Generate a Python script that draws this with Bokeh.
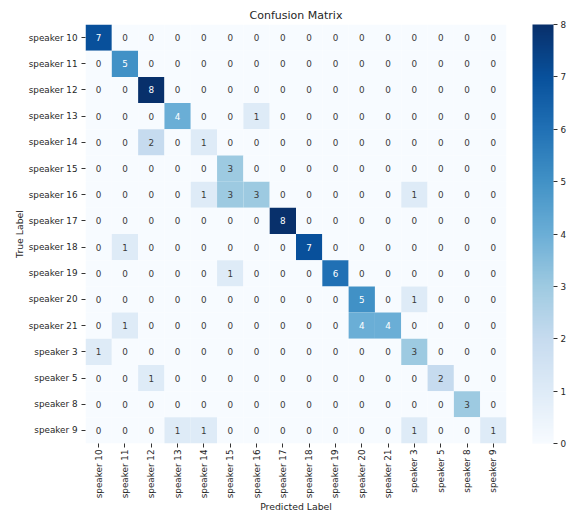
import math
from bokeh.plotting import figure
from bokeh.models import ColumnDataSource, ColorBar, LinearColorMapper, FixedTicker, Title
from bokeh.palettes import Blues256
from bokeh.embed import file_html
from bokeh.resources import INLINE

labels = ["speaker 10", "speaker 11", "speaker 12", "speaker 13", "speaker 14",
          "speaker 15", "speaker 16", "speaker 17", "speaker 18", "speaker 19",
          "speaker 20", "speaker 21", "speaker 3", "speaker 5", "speaker 8", "speaker 9"]

matrix = [
    [7, 0, 0, 0, 0, 0, 0, 0, 0, 0, 0, 0, 0, 0, 0, 0],
    [0, 5, 0, 0, 0, 0, 0, 0, 0, 0, 0, 0, 0, 0, 0, 0],
    [0, 0, 8, 0, 0, 0, 0, 0, 0, 0, 0, 0, 0, 0, 0, 0],
    [0, 0, 0, 4, 0, 0, 1, 0, 0, 0, 0, 0, 0, 0, 0, 0],
    [0, 0, 2, 0, 1, 0, 0, 0, 0, 0, 0, 0, 0, 0, 0, 0],
    [0, 0, 0, 0, 0, 3, 0, 0, 0, 0, 0, 0, 0, 0, 0, 0],
    [0, 0, 0, 0, 1, 3, 3, 0, 0, 0, 0, 0, 1, 0, 0, 0],
    [0, 0, 0, 0, 0, 0, 0, 8, 0, 0, 0, 0, 0, 0, 0, 0],
    [0, 1, 0, 0, 0, 0, 0, 0, 7, 0, 0, 0, 0, 0, 0, 0],
    [0, 0, 0, 0, 0, 1, 0, 0, 0, 6, 0, 0, 0, 0, 0, 0],
    [0, 0, 0, 0, 0, 0, 0, 0, 0, 0, 5, 0, 1, 0, 0, 0],
    [0, 1, 0, 0, 0, 0, 0, 0, 0, 0, 4, 4, 0, 0, 0, 0],
    [1, 0, 0, 0, 0, 0, 0, 0, 0, 0, 0, 0, 3, 0, 0, 0],
    [0, 0, 1, 0, 0, 0, 0, 0, 0, 0, 0, 0, 0, 2, 0, 0],
    [0, 0, 0, 0, 0, 0, 0, 0, 0, 0, 0, 0, 0, 0, 3, 0],
    [0, 0, 0, 1, 1, 0, 0, 0, 0, 0, 0, 0, 1, 0, 0, 1],
]

colorbar_ticks = [0, 1, 2, 3, 4, 5, 6, 7, 8]

xs, ys, vals, txt, tcol = [], [], [], [], []
for i, true_lab in enumerate(labels):
    for j, pred_lab in enumerate(labels):
        v = matrix[i][j]
        xs.append(pred_lab)
        ys.append(true_lab)
        vals.append(v)
        txt.append(str(v))
        tcol.append("#ffffff" if v >= 4 else "#3a3a3a")

src = ColumnDataSource(dict(x=xs, y=ys, v=vals, t=txt, c=tcol))

palette = list(reversed(Blues256))
mapper = LinearColorMapper(palette=palette, low=0, high=8)

FONT = "DejaVu Sans"

p = figure(x_range=labels, y_range=list(reversed(labels)),
           frame_width=421, frame_height=419,
           min_border_left=85, min_border_top=24, min_border_right=58, min_border_bottom=73,
           output_backend="svg", toolbar_location=None, tools="")

p.rect(x="x", y="y", width=1, height=1, source=src,
       fill_color={"field": "v", "transform": mapper}, line_color=None)
p.text(x="x", y="y", text="t", source=src, text_color="c",
       text_align="center", text_baseline="middle",
       text_font_size="8.8px", text_font={"value": FONT})

p.title.text = "Confusion Matrix"
p.title.align = "center"
p.title.text_font = FONT
p.title.text_font_size = "11px"
p.title.text_font_style = "normal"
p.title.text_color = "#262626"
p.title.standoff = 6

p.xaxis.axis_label = "Predicted Label"
p.yaxis.axis_label = "True Label"
for ax in (p.xaxis, p.yaxis):
    ax.axis_line_color = None
    ax.major_tick_out = 4
    ax.major_tick_in = 0
    ax.major_tick_line_color = "#333333"
    ax.major_label_text_font = FONT
    ax.major_label_text_font_size = "8.8px"
    ax.major_label_text_color = "#262626"
    ax.axis_label_text_font = FONT
    ax.axis_label_text_font_size = "9.3px"
    ax.axis_label_text_font_style = "normal"
    ax.axis_label_text_color = "#262626"
p.xaxis.major_label_standoff = 2
p.yaxis.major_label_standoff = 4
p.xaxis.major_label_orientation = math.pi / 2
p.xaxis.axis_label_standoff = 0
p.yaxis.axis_label_standoff = 1
p.xgrid.grid_line_color = None
p.ygrid.grid_line_color = None
p.outline_line_color = None

# blank spacer between the heatmap and the colour bar
spacer = Title(text=" ", text_font_size="1px", standoff=23)
p.add_layout(spacer, "right")

cb = ColorBar(color_mapper=mapper, ticker=FixedTicker(ticks=colorbar_ticks),
              width=21, height=419, padding=0, margin=0,
              major_tick_in=0, major_tick_out=4, major_tick_line_color="#333333",
              major_label_text_font=FONT, major_label_text_font_size="8.8px",
              major_label_text_color="#262626", label_standoff=3,
              bar_line_color=None, border_line_color=None, location="top_left")
p.add_layout(cb, "right")

open("out.html", "w").write(file_html(p, INLINE))
